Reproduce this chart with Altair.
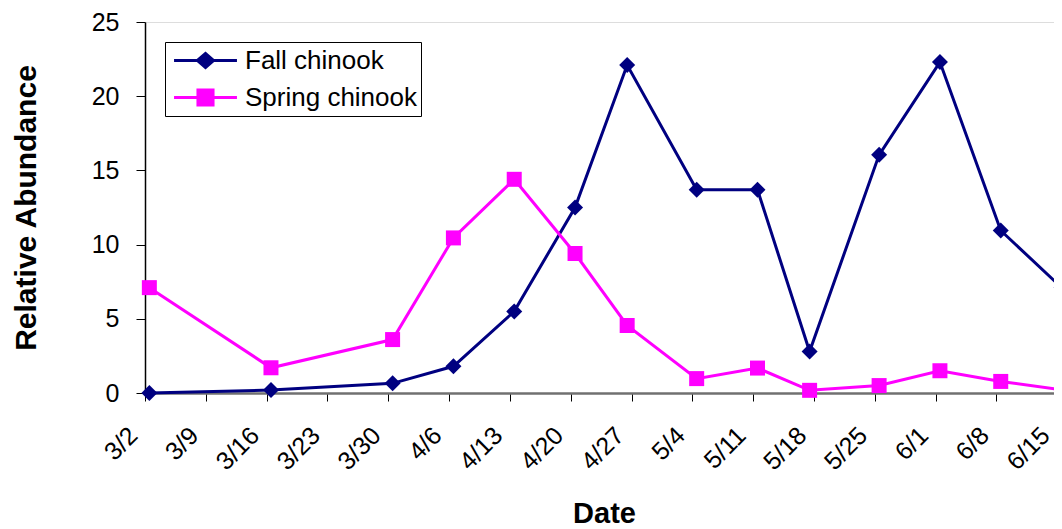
import altair as alt
import pandas as pd

# ---- data ----
sample_dates = ["2003-03-02T12:00", "2003-03-16T12:00", "2003-03-30T12:00", "2003-04-06T12:00",
                "2003-04-13T12:00", "2003-04-20T12:00", "2003-04-26T12:00", "2003-05-04T12:00",
                "2003-05-11T12:00", "2003-05-17T12:00", "2003-05-25T12:00", "2003-06-01T12:00",
                "2003-06-08T12:00", "2003-06-15T12:00"]
fall_chinook = [0.0, 0.2, 0.65, 1.8, 5.5, 12.5, 22.1, 13.7, 13.7, 2.8, 16.05, 22.3, 10.95, 7.1]
spring_chinook = [7.1, 1.7, 3.6, 10.45, 14.4, 9.4, 4.55, 0.97, 1.68, 0.18, 0.5, 1.5, 0.78, 0.22]
series_names = ["Fall chinook", "Spring chinook"]
series_colors = ["#000080", "#FF00FF"]
series_shapes = ["diamond", "square"]
series_sizes = [256, 225]
tick_months = [3, 3, 3, 3, 3, 4, 4, 4, 4, 5, 5, 5, 5, 6, 6, 6]
tick_days = [2, 9, 16, 23, 30, 6, 13, 20, 27, 4, 11, 18, 25, 1, 8, 15]
y_ticks = [0, 5, 10, 15, 20, 25]

rows = []
for d, f, s in zip(sample_dates, fall_chinook, spring_chinook):
    rows.append({"date": d, "value": f, "series": series_names[0]})
    rows.append({"date": d, "value": s, "series": series_names[1]})
df = pd.DataFrame(rows)

FONT = "Liberation Sans"
tick_vals = [alt.DateTime(year=2003, month=m, date=d) for m, d in zip(tick_months, tick_days)]

x_enc = alt.X(
    "date:T",
    scale=alt.Scale(domain=[alt.DateTime(year=2003, month=3, date=2),
                            alt.DateTime(year=2003, month=6, date=15, hours=16)]),
    axis=alt.Axis(values=tick_vals, format="%-m/%-d", labelAngle=-45, labelAlign="right",
                  labelBaseline="middle", labelOffset=-12, labelPadding=30, labelFontSize=25,
                  labelFont=FONT, labelColor="black", labelOverlap=False, labelFlush=False,
                  tickSize=8, tickColor="black", tickWidth=1, domainColor="#707070", domainWidth=2.5,
                  grid=False, title="Date", titleFont=FONT, titleFontSize=29, titleFontWeight="bold",
                  titleColor="black", titleX=459, titleY=129, titleBaseline="alphabetic",
                  titleAlign="center"),
)
y_enc = alt.Y(
    "value:Q",
    scale=alt.Scale(domain=[0, 25], nice=False),
    axis=alt.Axis(values=y_ticks, tickSize=9, tickColor="black", labelPadding=17, labelFontSize=25,
                  labelFont=FONT, labelColor="black", domainColor="black", domainWidth=1.5,
                  grid=False, title="Relative Abundance", titleFont=FONT, titleFontSize=30,
                  titleFontWeight="bold", titleColor="black", titleAngle=-90, titleX=-110,
                  titleY=185.5, titleBaseline="alphabetic", titleAlign="center"),
)

base = alt.Chart(df).encode(x=x_enc, y=y_enc)

layers = []
for name, col in zip(series_names, series_colors):
    layers.append(base.transform_filter(alt.datum.series == name).mark_line(strokeWidth=3, color=col))
for name, col, shp, sz in zip(series_names, series_colors, series_shapes, series_sizes):
    layers.append(base.transform_filter(alt.datum.series == name).mark_point(
        shape=shp, filled=True, size=sz, color=col, opacity=1))

# legend symbols: a line with the series marker in its middle (unit = 13 px)
path_fall = "M-2.42,0L2.42,0M-0.62,0L0,-0.54L0.62,0L0,0.54Z"
path_spring = "M-2.42,0L2.42,0M-0.58,-0.58L0.58,-0.58L0.58,0.58L-0.58,0.58Z"

leg = alt.Legend(title=None, orient="top-left", offset=20, strokeColor="black", fillColor="white",
                 padding=4, labelFont=FONT, labelFontSize=26, labelColor="black", labelLimit=400,
                 symbolSize=676, symbolStrokeWidth=3, symbolOpacity=1, symbolOffset=22,
                 labelOffset=25, rowPadding=9)

# legend-only layer: its rows are filtered away, the legend comes from the explicit scale domains
legend_layer = base.transform_filter(alt.datum.value < -100).mark_point(filled=True, opacity=1).encode(
    fill=alt.Fill("series:N", scale=alt.Scale(domain=series_names, range=series_colors), legend=leg),
    stroke=alt.Stroke("series:N", scale=alt.Scale(domain=series_names, range=series_colors), legend=leg),
    shape=alt.Shape("series:N", scale=alt.Scale(domain=series_names, range=[path_fall, path_spring]),
                    legend=leg),
)
layers.append(legend_layer)

chart = alt.layer(*layers).properties(
    width=918, height=371,
    autosize=alt.AutoSizeParams(type="none"),
    padding={"left": 137, "top": 14, "right": -9, "bottom": 136},
).configure_view(stroke="#808080", strokeWidth=2).configure(background="white")

chart.save("out.html", embed_options={"renderer": "svg", "actions": False})
